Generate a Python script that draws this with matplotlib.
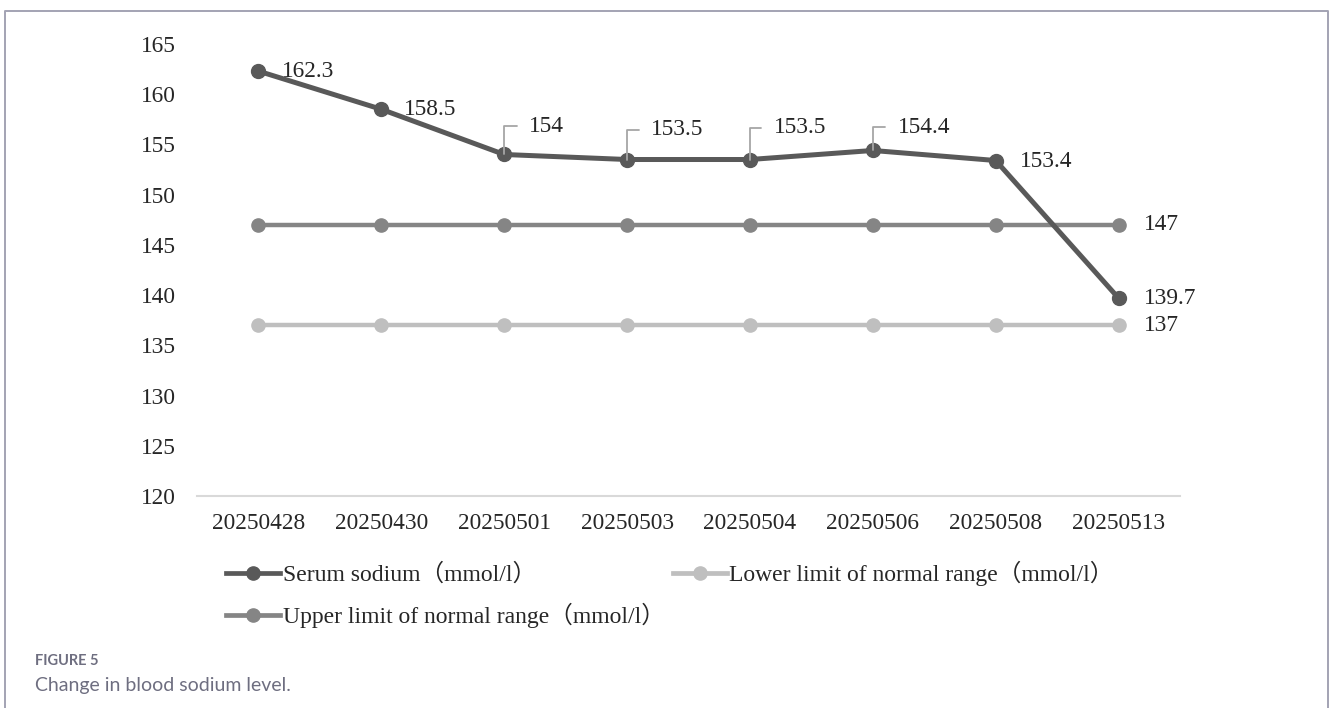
import matplotlib
matplotlib.use("Agg")
import matplotlib.pyplot as plt
from matplotlib.lines import Line2D

# ── data ─────────────────────────────────────────────────────────────────────
dates = ["20250428", "20250430", "20250501", "20250503",
         "20250504", "20250506", "20250508", "20250513"]
serum = [162.3, 158.5, 154, 153.5, 153.5, 154.4, 153.4, 139.7]
lower = [137, 137, 137, 137, 137, 137, 137, 137]
upper = [147, 147, 147, 147, 147, 147, 147, 147]

SERUM_LABEL = "Serum sodium（mmol/l）"
LOWER_LABEL = "Lower limit of normal range（mmol/l）"
UPPER_LABEL = "Upper limit of normal range（mmol/l）"

# label offsets (px) for the serum points; True = drawn with a leader line
serum_offsets = [(24, 0), (23, 0), (25, 28), (24, 30),
                 (24, 32), (25, 23), (24, -1), (25, 0)]
serum_leader = [False, False, True, True, True, True, False, False]

# ── style ────────────────────────────────────────────────────────────────────
DPI = 100
SERIF = ["Liberation Serif", "Noto Sans CJK SC"]
C_SERUM = "#595959"
C_UPPER = "#858585"
C_LOWER = "#bfbfbf"
TXT = "#262626"
FS = 16.8

plt.rcParams["font.family"] = SERIF

fig = plt.figure(figsize=(13.30, 7.08), dpi=DPI)
ax = fig.add_axes([197 / 1330, 1 - 496 / 708, 983 / 1330, 452 / 708])

x = list(range(len(dates)))
ax.plot(x, lower, color=C_LOWER, lw=3.2, marker="o", ms=9.5, zorder=2)
ax.plot(x, upper, color=C_UPPER, lw=3.2, marker="o", ms=9.5, zorder=3)
ax.plot(x, serum, color=C_SERUM, lw=3.6, marker="o", ms=10, zorder=4)

px = 72 / DPI  # pixels -> points

for i, v in enumerate(serum):
    dx, dy = serum_offsets[i]
    if serum_leader[i]:
        ax.annotate(f"{v:g}", xy=(i, v), xytext=(dx * px, dy * px),
                    textcoords="offset points", ha="left", va="center",
                    fontsize=FS, color=TXT, zorder=6,
                    arrowprops=dict(arrowstyle="-", color="#a6a6a6", lw=1.3,
                                    relpos=(0, 0.5), shrinkA=7, shrinkB=0,
                                    connectionstyle="angle,angleA=0,angleB=90,rad=0"))
    else:
        ax.annotate(f"{v:g}", xy=(i, v), xytext=(dx * px, dy * px),
                    textcoords="offset points", ha="left", va="center",
                    fontsize=FS, color=TXT, zorder=6)

for series in (upper, lower):
    ax.annotate(f"{series[-1]:g}", xy=(x[-1], series[-1]), xytext=(25 * px, 0),
                textcoords="offset points", ha="left", va="center",
                fontsize=FS, color=TXT)

ax.set_xlim(-0.5, len(dates) - 0.5)
ax.set_ylim(120, 165)
ax.set_yticks(range(120, 166, 5))
ax.set_xticks(x)
ax.set_xticklabels(dates)
ax.tick_params(axis="both", length=0, labelsize=FS, labelcolor=TXT)
ax.tick_params(axis="y", pad=15)
ax.tick_params(axis="x", pad=12)

for side in ("left", "right", "top"):
    ax.spines[side].set_visible(False)
ax.spines["bottom"].set_color("#d9d9d9")
ax.spines["bottom"].set_linewidth(1.5)

# legend: row-major order Serum, Lower / Upper
def handle(color):
    return Line2D([], [], color=color, lw=3.4, marker="o", ms=9.5)

fig.legend([handle(C_SERUM), handle(C_UPPER), handle(C_LOWER)],
           [SERUM_LABEL, UPPER_LABEL, LOWER_LABEL],
           ncol=2, loc="upper left", bbox_to_anchor=(226 / 1330, 1 - 561 / 708),
           frameon=False, fontsize=17, labelcolor=TXT,
           handlelength=2.3, handletextpad=0.1, columnspacing=0.35,
           labelspacing=0.7, borderpad=0, borderaxespad=0)

# caption
fig.text(35 / 1330, 1 - 661 / 708, "FIGURE 5", family="Lato", weight="bold",
         fontsize=10.5, color="#6e6e80", va="center", ha="left")
fig.text(35 / 1330, 1 - 686 / 708, "Change in blood sodium level.", family="Lato",
         fontsize=14, color="#6e6e80", va="center", ha="left")

# frame around the figure panel
fc = "#a3a3b3"
l, r, t = 5.5 / 1330, 1327.5 / 1330, 1 - 10.5 / 708
fig.add_artist(Line2D([l, l, r, r], [0, t, t, 0], transform=fig.transFigure,
                      color=fc, lw=1.4))

fig.savefig("out.png", dpi=DPI, facecolor="white")
